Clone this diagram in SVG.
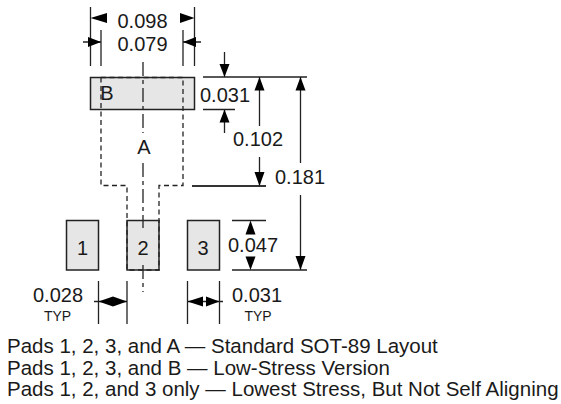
<svg xmlns="http://www.w3.org/2000/svg" width="561" height="404" viewBox="0 0 561 404">
<style>
text{font-family:"Liberation Sans",Arial,sans-serif;fill:#1a1a1a}
.d{font-size:20px;text-anchor:middle}
.t{font-size:14px;text-anchor:middle}
.c{font-size:20.500px}
.p{fill:#e6e6e6;stroke:#222;stroke-width:1.500}
.l{fill:none;stroke:#222;stroke-width:1.300}
.h{fill:none;stroke:#222;stroke-width:1.300;stroke-dasharray:5 3.500}
.m{fill:none;stroke:#222;stroke-width:1.300;stroke-dasharray:14 4 4 4}
.a{fill:#000}
</style>
<rect width="561" height="404" fill="#fff"/>
<g id="pad-b"><rect class="p" x="90.500" y="77.500" width="104" height="32"/><text class="d" x="107" y="100">B</text></g>
<g id="pad-1"><rect class="p" x="66.500" y="220.500" width="32" height="49.500"/><text class="d" x="82.500" y="254.500">1</text></g>
<g id="pad-2"><rect class="p" x="127" y="220.500" width="32" height="49.500"/><text class="d" x="143" y="254.500">2</text></g>
<g id="pad-3"><rect class="p" x="187.500" y="220.500" width="32" height="49.500"/><text class="d" x="203" y="254.500">3</text></g>
<g id="pad-a"><path class="h" d="M101 77.500H183M101 77.500V185.500H127V270H159V185.500H183V77.500"/><text class="d" x="144" y="154">A</text></g>
<g id="connectors">
<path class="m" d="M143 62V133M143 163V228M143 265V292"/>
<path class="l" d="M90.500 7V66M194.500 7V66M101 30V66M183 30V66M83 42H101M183 42H201"/>
<path class="l" d="M203 77H307M203 109.500H235M224.500 52V77M224.500 109.500V133M259.500 77V126M259.500 157V186M300.500 77V163M300.500 195V270M232 220.500H266M232 270H307"/>
<path d="M192 186H266" fill="none" stroke="#333" stroke-width="1.800"/>
<path class="l" d="M98.500 281V324M127 281V324M94 301.500H127M187.500 281V324M219.500 281V324M187.500 301.500H223"/>
<path class="a" d="M90.500 18L107 13V23ZM194.500 18L180 13V23ZM101 42L88 37V47ZM183 42L196 37V47Z"/>
<path class="a" d="M224.500 77L219.500 64H229.500ZM224.500 109.500L219.500 122.500H229.500ZM259.500 77L254.500 90.500H264.500ZM259.500 186L254.500 172H264.500ZM300.500 77L295.500 90.500H305.500ZM300.500 270L295.500 256H305.500ZM250.500 220.500L245.500 234.500H255.500ZM250.500 270L245.500 256.500H255.500Z"/>
<path class="a" d="M98.500 301.500L113 296.500V306.500ZM127 301.500L113 296.500V306.500ZM187.500 301.500L203 296.500V306.500ZM219.500 301.500L206 296.500V306.500Z"/>
</g>
<g id="labels">
<text class="d" x="142.500" y="28">0.098</text>
<text class="d" x="142.500" y="51">0.079</text>
<text class="d" x="225" y="101.500">0.031</text>
<text class="d" x="258" y="146">0.102</text>
<text class="d" x="300" y="184">0.181</text>
<text class="d" x="253" y="252">0.047</text>
<text class="d" x="58" y="302">0.028</text>
<text class="t" x="57.500" y="320.500">TYP</text>
<text class="d" x="257" y="302">0.031</text>
<text class="t" x="258" y="320.500">TYP</text>
<text class="c" x="7" y="353">Pads 1, 2, 3, and A — Standard SOT-89 Layout</text>
<text class="c" x="7" y="374.500">Pads 1, 2, 3, and B — Low-Stress Version</text>
<text class="c" x="7" y="396">Pads 1, 2, and 3 only — Lowest Stress, But Not Self Aligning</text>
</g>
</svg>
